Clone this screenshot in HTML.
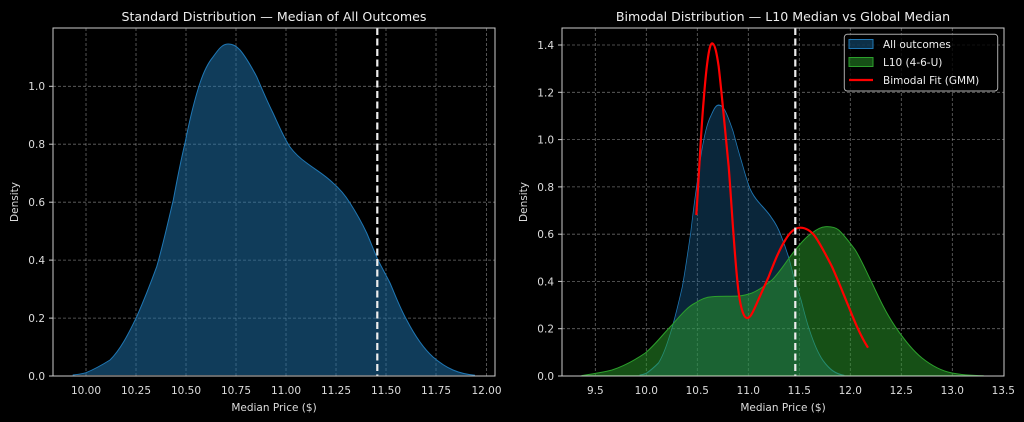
<!DOCTYPE html>
<html><head><meta charset="utf-8"><style>
html,body{margin:0;padding:0;background:#000;}
svg{display:block;font-family:"DejaVu Sans","Liberation Sans",sans-serif;}
</style></head><body>
<svg width="1024" height="422" viewBox="0 0 1024 422" xmlns="http://www.w3.org/2000/svg">
<rect width="1024" height="422" fill="#000"/>
<defs>
<path id="blue" d="M72.7,375 C78,374.5 82,373.8 86,372.7 C95,369 102,365 110,360 C120,350 128,335 136.7,316.7 C145,298 150,285 156.7,266.7 C163,245 168,222 173.3,200 C177,180 181,160 185,143 C190,118 195,98 200,83 C204,71 208,63 213,57 C218,50 222,44 228,44 C233,44 236,46 240,50 C246,57 251,66 256.7,76.7 C262,89 267,101 273,113 C279,126 284,138 290,147 C296,155 301,159 306.7,163 C316,170 325,175 333,183 C340,189 345,195 350,203 C357,214 362,223 366.7,233 C371,243 374,251 378,260 C382,268 386,275 390,283 C396,297 400,308 406.7,320 C414,334 423,348 433,357 C440,363 446,367 453,370 C460,373 467,374.5 475,375.3"/>
</defs>
<!-- LEFT -->
<g stroke="#bbb" stroke-opacity="0.55" stroke-width="0.8" stroke-dasharray="3,2" fill="none">
<line x1="86" y1="28" x2="86" y2="376"/><line x1="136" y1="28" x2="136" y2="376"/><line x1="186" y1="28" x2="186" y2="376"/><line x1="236" y1="28" x2="236" y2="376"/><line x1="286" y1="28" x2="286" y2="376"/><line x1="336" y1="28" x2="336" y2="376"/><line x1="386" y1="28" x2="386" y2="376"/><line x1="436" y1="28" x2="436" y2="376"/><line x1="486.5" y1="28" x2="486.5" y2="376"/>
<line x1="53" y1="318.1" x2="495" y2="318.1"/><line x1="53" y1="260.1" x2="495" y2="260.1"/><line x1="53" y1="202.2" x2="495" y2="202.2"/><line x1="53" y1="144.2" x2="495" y2="144.2"/><line x1="53" y1="86.3" x2="495" y2="86.3"/>
</g>
<use href="#blue" fill="rgba(31,119,180,0.5)" stroke="#1f77b4" stroke-width="1"/>
<line x1="377.3" y1="28" x2="377.3" y2="376" stroke="#eee" stroke-width="2.2" stroke-dasharray="7,3.5"/>
<rect x="53" y="28" width="442" height="348" fill="none" stroke="#ccc" stroke-width="1"/>
<g fill="#ddd" font-size="10.5" text-anchor="middle">
<text x="86" y="394">10.00</text><text x="136" y="394">10.25</text><text x="186" y="394">10.50</text><text x="236" y="394">10.75</text><text x="286" y="394">11.00</text><text x="336" y="394">11.25</text><text x="386" y="394">11.50</text><text x="436" y="394">11.75</text><text x="486.5" y="394">12.00</text>
</g>
<g fill="#ddd" font-size="10.5" text-anchor="end">
<text x="45" y="380">0.0</text><text x="45" y="322">0.2</text><text x="45" y="264">0.4</text><text x="45" y="206">0.6</text><text x="45" y="148">0.8</text><text x="45" y="90">1.0</text>
</g>
<g stroke="#ccc"><line x1="49" x2="53" y1="376" y2="376"/><line x1="49" x2="53" y1="318.1" y2="318.1"/><line x1="49" x2="53" y1="260.1" y2="260.1"/><line x1="49" x2="53" y1="202.2" y2="202.2"/><line x1="49" x2="53" y1="144.2" y2="144.2"/><line x1="49" x2="53" y1="86.3" y2="86.3"/></g>
<text x="274" y="411" fill="#ddd" font-size="10.5" text-anchor="middle">Median Price ($)</text>
<text transform="translate(18,202) rotate(-90)" fill="#ddd" font-size="10.5" text-anchor="middle">Density</text>
<text x="274" y="21" fill="#eee" font-size="12.6" text-anchor="middle">Standard Distribution — Median of All Outcomes</text>

<!-- RIGHT -->
<g stroke="#bbb" stroke-opacity="0.55" stroke-width="0.8" stroke-dasharray="3,2" fill="none">
<line x1="595.3" y1="28" x2="595.3" y2="376"/><line x1="646.3" y1="28" x2="646.3" y2="376"/><line x1="697.3" y1="28" x2="697.3" y2="376"/><line x1="748.3" y1="28" x2="748.3" y2="376"/><line x1="799.3" y1="28" x2="799.3" y2="376"/><line x1="850.3" y1="28" x2="850.3" y2="376"/><line x1="901.3" y1="28" x2="901.3" y2="376"/><line x1="952.3" y1="28" x2="952.3" y2="376"/>
<line x1="562" y1="328.7" x2="1004" y2="328.7"/><line x1="562" y1="281.4" x2="1004" y2="281.4"/><line x1="562" y1="234.2" x2="1004" y2="234.2"/><line x1="562" y1="186.9" x2="1004" y2="186.9"/><line x1="562" y1="139.6" x2="1004" y2="139.6"/><line x1="562" y1="92.3" x2="1004" y2="92.3"/><line x1="562" y1="45" x2="1004" y2="45"/>
</g>
<g transform="translate(646.3,376) scale(0.5092,0.816) translate(-86,-376)">
<use href="#blue" fill="rgba(31,119,180,0.32)" stroke="#1f77b4" stroke-width="1.5"/>
</g>
<path d="M581.3,375.7 C592,374 602,372.5 612,370 C624,366 635,360 645.3,353 C655,345 663,334 672,325 C680,316 687,307 695.3,303 C701,299 706,297 712,296.7 C722,296 730,296.5 738.7,296 C744,295.5 748,294.5 752,293 C759,290 766,285 772,280 C780,272 787,260 795.3,250 C801,243 806,237 812,233 C817,229 821,227 825.3,226.7 C830,226.5 835,227 838.7,230 C845,236 850,243 855.3,250 C862,261 866,271 872,283 C879,298 886,313 895.3,326.7 C903,338 912,350 922,358 C932,366 942,371 952,373 C962,375 973,375.5 983.7,375.7 Z" fill="rgba(44,160,44,0.5)" stroke="#2ca02c" stroke-width="1"/>
<path d="M696.3,215 C699,175 701,130 703.7,100 C706,70 709,43.3 712,43.3 C715,43.3 717,55 718.7,66.7 C722,95 725,130 728.7,166.7 C732,210 735,265 738.7,293 C741,310 744,318 747,318 C750,318 752,314 755.3,306.7 C760,296 764,287 768.7,276.7 C774,263 779,250 785.3,240 C790,232 795,227.7 800.3,227.7 C806,227.7 811,231 815.3,236.7 C821,245 826,255 832,266.7 C838,280 843,293 848.7,306.7 C854,320 860,335 868,347.7" fill="none" stroke="#ff0000" stroke-width="2.2"/>
<line x1="795.3" y1="28" x2="795.3" y2="376" stroke="#eee" stroke-width="2.2" stroke-dasharray="7,3.5"/>
<rect x="562" y="28" width="442" height="348" fill="none" stroke="#ccc" stroke-width="1"/>
<g fill="#ddd" font-size="10.5" text-anchor="middle">
<text x="595.3" y="394">9.5</text><text x="646.3" y="394">10.0</text><text x="697.3" y="394">10.5</text><text x="748.3" y="394">11.0</text><text x="799.3" y="394">11.5</text><text x="850.3" y="394">12.0</text><text x="901.3" y="394">12.5</text><text x="952.3" y="394">13.0</text><text x="1003.3" y="394">13.5</text>
</g>
<g fill="#ddd" font-size="10.5" text-anchor="end">
<text x="554" y="380">0.0</text><text x="554" y="332.7">0.2</text><text x="554" y="285.4">0.4</text><text x="554" y="238.2">0.6</text><text x="554" y="190.9">0.8</text><text x="554" y="143.6">1.0</text><text x="554" y="96.3">1.2</text><text x="554" y="49">1.4</text>
</g>
<g stroke="#ccc"><line x1="558" x2="562" y1="376" y2="376"/><line x1="558" x2="562" y1="328.7" y2="328.7"/><line x1="558" x2="562" y1="281.4" y2="281.4"/><line x1="558" x2="562" y1="234.2" y2="234.2"/><line x1="558" x2="562" y1="186.9" y2="186.9"/><line x1="558" x2="562" y1="139.6" y2="139.6"/><line x1="558" x2="562" y1="92.3" y2="92.3"/><line x1="558" x2="562" y1="45" y2="45"/></g>
<text x="783" y="411" fill="#ddd" font-size="10.5" text-anchor="middle">Median Price ($)</text>
<text transform="translate(527,202) rotate(-90)" fill="#ddd" font-size="10.5" text-anchor="middle">Density</text>
<text x="783" y="21" fill="#eee" font-size="12.6" text-anchor="middle">Bimodal Distribution — L10 Median vs Global Median</text>
<!-- legend -->
<rect x="844.3" y="34.3" width="153.4" height="56.7" rx="3" fill="#000" fill-opacity="0.8" stroke="#aaa" stroke-width="1"/>
<rect x="849" y="39.5" width="24" height="9" fill="rgba(31,119,180,0.4)" stroke="#1f77b4"/>
<rect x="849" y="57.5" width="24" height="9" fill="rgba(44,160,44,0.5)" stroke="#2ca02c"/>
<line x1="849" x2="873" y1="80" y2="80" stroke="#ff0000" stroke-width="2.2"/>
<g fill="#eee" font-size="10.5"><text x="883" y="48">All outcomes</text><text x="883" y="66">L10 (4-6-U)</text><text x="883" y="84">Bimodal Fit (GMM)</text></g>
</svg>
</body></html>
